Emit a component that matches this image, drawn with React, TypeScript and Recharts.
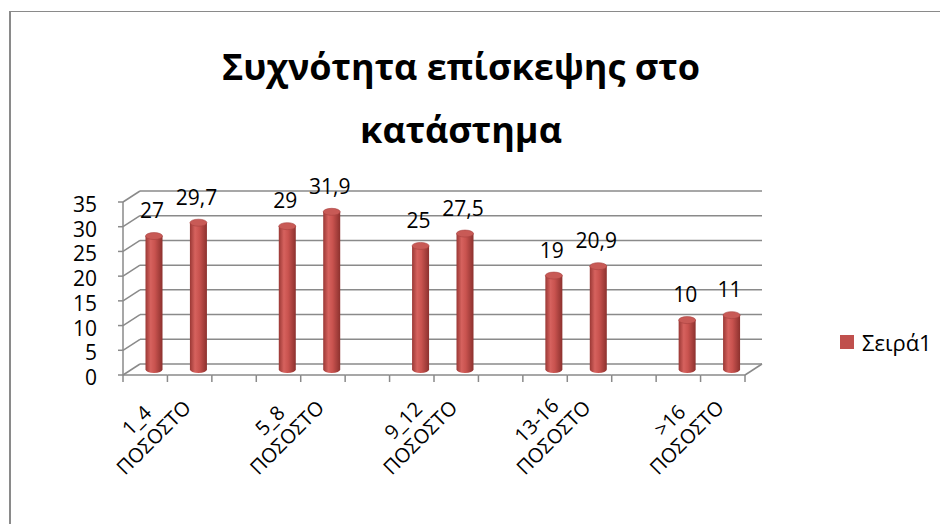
import React from "react";
import { BarChart, Bar, XAxis, YAxis, CartesianGrid, LabelList } from "recharts";

// chart data
const categories = ["1_4", "ΠΟΣΟΣΤΟ", "", "5_8", "ΠΟΣΟΣΤΟ", "", "9_12", "ΠΟΣΟΣΤΟ", "", "13-16", "ΠΟΣΟΣΤΟ", "", ">16", "ΠΟΣΟΣΤΟ"];
const values: (number | null)[] = [27, 29.7, null, 29, 31.9, null, 25, 27.5, null, 19, 20.9, null, 10, 11];
const yTicks = [0, 5, 10, 15, 20, 25, 30, 35];
const seriesName = "Σειρά1";
const titleLines = ["Συχνότητα επίσκεψης στο", "κατάστημα"];

const data = categories.map((c, i) => ({ id: i, cat: c, value: values[i] }));

// layout
const W = 940;
const H = 516;
const PLOT_LEFT = 123.5;
const PLOT_TOP = 188.5;
const PLOT_W = 622;
const PLOT_H = 173;
const YAXIS_W = 60;
const XAXIS_H = 100;
const DX = 8.5; // half depth of the 3d box
const DY = 5.5;
const SLOT = PLOT_W / categories.length;
const GRID = "#8a8a8a";
const RED = "#C0504D";
const FONT = "'Open Sans', sans-serif";

const fmt = (v: number) => String(v).replace(".", ",");

const Cylinder = (props: any) => {
  const { x, y, width, height, index } = props;
  if (height == null || height <= 0) return null;
  const rx = width / 2;
  const ry = 3.5;
  const gid = `cyl-${index}`;
  const bottom = y + height;
  return (
    <g>
      <defs>
        <linearGradient id={gid} x1="0" y1="0" x2="1" y2="0">
          <stop offset="0%" stopColor="#9a3835" />
          <stop offset="30%" stopColor="#d6625e" />
          <stop offset="55%" stopColor="#c9534f" />
          <stop offset="100%" stopColor="#8c312e" />
        </linearGradient>
      </defs>
      <path
        d={`M${x},${y} L${x},${bottom} A${rx},${ry} 0 0 0 ${x + width},${bottom} L${x + width},${y} Z`}
        fill={`url(#${gid})`}
      />
      <ellipse cx={x + rx} cy={y} rx={rx} ry={ry} fill="#c85a56" stroke="#a8423f" strokeWidth={0.6} />
    </g>
  );
};

const ValueLabel = (props: any) => {
  const { x, y, width, value } = props;
  if (value == null) return null;
  return (
    <text x={x + width / 2 - 2} y={y - 18} textAnchor="middle" fontSize={21} fontFamily={FONT} fill="#000">
      {fmt(value)}
    </text>
  );
};

const XTick = (props: any) => {
  const { x, y, payload } = props;
  const i = payload.index;
  const fx = x - DX;
  const fy = y + DY;
  const left = fx - SLOT / 2;
  const right = fx + SLOT / 2;
  const last = i === categories.length - 1;
  const showLabel = i % 3 === 0;
  const cx = fx;
  const cy = y + 59.5;
  return (
    <g>
      <line x1={left} y1={fy} x2={right} y2={fy} stroke={GRID} strokeWidth={1.5} />
      <line x1={left} y1={fy} x2={left} y2={fy + 7} stroke={GRID} strokeWidth={1.5} />
      {last && (
        <>
          <line x1={right} y1={fy} x2={right} y2={fy + 7} stroke={GRID} strokeWidth={1.5} />
          <line x1={right} y1={fy} x2={right + 2 * DX} y2={fy - 2 * DY} stroke={GRID} strokeWidth={1.5} />
        </>
      )}
      {showLabel && (
        <text
          transform={`translate(${cx},${cy}) rotate(-45)`}
          textAnchor="middle"
          fontSize={20}
          fontFamily={FONT}
          fill="#000"
        >
          <tspan x={0} y={-5}>{categories[i]}</tspan>
          <tspan x={0} y={19}>{categories[i + 1]}</tspan>
        </text>
      )}
    </g>
  );
};

const YTick = (props: any) => {
  const { x, y, payload } = props;
  const fx = x - DX;
  const fy = y + DY;
  return (
    <g>
      <line x1={fx} y1={fy} x2={x + DX} y2={y - DY} stroke={GRID} strokeWidth={1.5} />
      <line x1={fx - 5} y1={fy} x2={fx} y2={fy} stroke={GRID} strokeWidth={1.5} />
      {payload.value === 0 && (
        <line x1={fx} y1={fy} x2={fx} y2={fy - PLOT_H} stroke={GRID} strokeWidth={1.5} />
      )}
      <text x={fx - 26} y={fy + 2} textAnchor="end" dominantBaseline="central" fontSize={21} fontFamily={FONT} fill="#000">
        {payload.value}
      </text>
    </g>
  );
};

const BackLine = (p: any) => (
  <line key={p.key} x1={p.x1 + DX} y1={p.y1 - DY} x2={p.x2 + DX} y2={p.y2 - DY} stroke={GRID} strokeWidth={1.5} />
);

export default function App() {
  return (
    <div style={{ position: "relative", width: W, height: H, overflow: "hidden", fontFamily: FONT, background: "#fff" }}>
      <div
        style={{
          position: "absolute",
          left: 1,
          top: 3,
          width: 2000,
          height: 2000,
          borderLeft: "2px solid #8a8a8a",
          borderTop: "1.5px solid #8a8a8a",
        }}
      />
      <div style={{ position: "absolute", left: 0, top: 0 }}>
        <BarChart
          width={W}
          height={H}
          data={data}
          margin={{
            top: PLOT_TOP,
            left: PLOT_LEFT - YAXIS_W,
            right: W - PLOT_LEFT - PLOT_W,
            bottom: H - PLOT_TOP - PLOT_H - XAXIS_H,
          }}
        >
          <CartesianGrid vertical={false} horizontal={BackLine} />
          <XAxis
            dataKey="id"
            type="category"
            height={XAXIS_H}
            interval={0}
            axisLine={false}
            tickLine={false}
            tickSize={0}
            tickMargin={0}
            tick={XTick}
          />
          <YAxis
            type="number"
            domain={[0, 35]}
            ticks={yTicks}
            width={YAXIS_W}
            interval={0}
            axisLine={false}
            tickLine={false}
            tickSize={0}
            tickMargin={0}
            tick={YTick}
          />
          <Bar dataKey="value" name={seriesName} barSize={17} shape={Cylinder} isAnimationActive={false}>
            <LabelList dataKey="value" content={ValueLabel} />
          </Bar>
        </BarChart>
      </div>
      <svg width={W} height={H} style={{ position: "absolute", left: 0, top: 0, pointerEvents: "none" }}>
        <text x={453} y={72} textAnchor="middle" fontSize={36} fontWeight={700} fontFamily={FONT} fill="#000">
          {titleLines[0]}
        </text>
        <text x={453} y={135} textAnchor="middle" fontSize={36} fontWeight={700} fontFamily={FONT} fill="#000">
          {titleLines[1]}
        </text>
        <rect x={832} y={327} width={14} height={14} fill={RED} />
        <text x={854} y={334} dominantBaseline="central" fontSize={22} fontFamily={FONT} fill="#000">
          {seriesName}
        </text>
      </svg>
    </div>
  );
}
